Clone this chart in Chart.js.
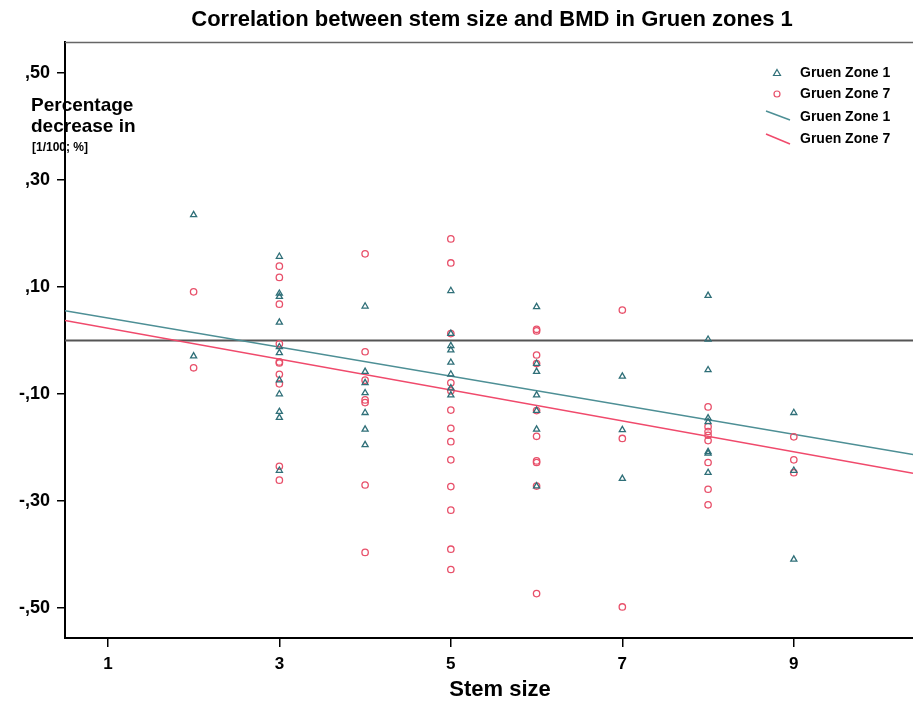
<!DOCTYPE html>
<html>
<head>
<meta charset="utf-8">
<script src="https://cdn.jsdelivr.net/npm/chart.js@4.4.1/dist/chart.umd.min.js"></script>
<style>
  html,body{margin:0;padding:0;background:#fff;}
  #wrap{width:913px;height:704px;}
</style>
</head>
<body>
<div id="wrap"><canvas id="c" width="913" height="704"></canvas></div>
<script>
// stem size / percentage decrease, Gruen zone 1 (triangles)
const g1Stem=[2,2, 3,3,3,3,3,3,3,3,3,3,3, 4,4,4,4,4,4,4, 5,5,5,5,5,5,5,5, 6,6,6,6,6,6,6, 7,7,7, 8,8,8,8,8,8,8,8, 9,9,9];
const g1Pct =[0.235,-0.029, 0.157,0.088,0.082,0.034,-0.012,-0.023,-0.074,-0.100,-0.133,-0.144,-0.243,
  0.064,-0.058,-0.079,-0.098,-0.135,-0.166,-0.195,
  0.093,0.013,-0.010,-0.018,-0.041,-0.063,-0.089,-0.102,
  0.063,-0.043,-0.058,-0.102,-0.131,-0.166,-0.272,
  -0.067,-0.167,-0.258,
  0.084,0.002,-0.055,-0.145,-0.152,-0.208,-0.211,-0.247,
  -0.135,-0.243,-0.409];

// Gruen zone 7 (circles)
const g7Stem=[2,2, 3,3,3,3,3,3,3,3,3,3, 4,4,4,4,4,4,4, 5,5,5,5,5,5,5,5,5,5,5,5,5, 6,6,6,6,6,6,6,6,6,6, 7,7,7, 8,8,8,8,8,8,8,8, 9,9,9];
const g7Pct =[0.091,-0.051,
  0.139,0.118,0.068,-0.006,-0.040,-0.042,-0.063,-0.081,-0.235,-0.261,
  0.162,-0.021,-0.074,-0.111,-0.116,-0.270,-0.396,
  0.190,0.145,0.013,-0.079,-0.094,-0.130,-0.164,-0.189,-0.223,-0.273,-0.317,-0.390,-0.428,
  0.021,0.018,-0.027,-0.043,-0.131,-0.179,-0.225,-0.228,-0.272,-0.473,
  0.057,-0.183,-0.498,
  -0.124,-0.161,-0.170,-0.177,-0.187,-0.228,-0.278,-0.307,
  -0.180,-0.223,-0.247];

// fitted lines: [intercept, slope]
const fit1=[0.0695,-0.0272];
const fit7=[0.052,-0.0289];

const xTicks=[1,3,5,7,9];
const yTicks=[0.5,0.3,0.1,-0.1,-0.3,-0.5];
const xMin=0.5, xMax=10.39, yMin=-0.556, yMax=0.558;

const teal="#2f6f78", tealLine="#4d8f95", red="#e8506a", redLine="#f04a6c";
const FONT="'Liberation Sans', Arial, sans-serif";

const pts=(xs,ys)=>xs.map((x,i)=>({x:x,y:ys[i]}));
const fitPts=f=>[{x:xMin,y:f[0]+f[1]*xMin},{x:xMax,y:f[0]+f[1]*xMax}];

function fmt(v){
  let s=Math.abs(v).toFixed(2).replace(/^0\./,",");
  return (v<0?"-":"")+s;
}

const decor={
  id:"decor",
  afterDraw(ch){
    const c=ch.ctx, a=ch.chartArea;
    c.save();
    // top frame line
    c.strokeStyle="#666"; c.lineWidth=1.5;
    c.beginPath(); c.moveTo(a.left,a.top+0.5); c.lineTo(a.right,a.top+0.5); c.stroke();
    // title
    c.fillStyle="#000"; c.textAlign="center"; c.textBaseline="middle";
    c.font="bold 22px "+FONT;
    c.fillText("Correlation between stem size and BMD in Gruen zones 1",492,20);
    // y title
    c.textAlign="left";
    c.font="bold 19px "+FONT;
    c.fillText("Percentage",31,106);
    c.fillText("decrease in",31,127);
    c.font="bold 12px "+FONT;
    c.fillText("[1/100; %]",32,148);
    // x title
    c.textAlign="center";
    c.font="bold 22px "+FONT;
    c.fillText("Stem size",500,690);
    // legend
    c.font="bold 14px "+FONT;
    c.textAlign="left";
    const lx=777, tx=800;
    c.lineWidth=1.2;
    c.strokeStyle=teal;
    c.beginPath(); c.moveTo(lx,69.5); c.lineTo(lx+3.5,75.5); c.lineTo(lx-3.5,75.5); c.closePath(); c.stroke();
    c.strokeStyle=red;
    c.beginPath(); c.arc(lx,94,3,0,Math.PI*2); c.stroke();
    c.lineWidth=1.5;
    c.strokeStyle=tealLine;
    c.beginPath(); c.moveTo(766,111); c.lineTo(790,120); c.stroke();
    c.strokeStyle=redLine;
    c.beginPath(); c.moveTo(766,134); c.lineTo(790,144); c.stroke();
    c.fillStyle="#000";
    c.fillText("Gruen Zone 1",tx,73);
    c.fillText("Gruen Zone 7",tx,94);
    c.fillText("Gruen Zone 1",tx,117);
    c.fillText("Gruen Zone 7",tx,139);
    c.restore();
  }
};

new Chart(document.getElementById("c"),{
  type:"scatter",
  data:{datasets:[
    {label:"zero",type:"line",data:[{x:xMin,y:0},{x:xMax,y:0}],borderColor:"#555",borderWidth:2,pointRadius:0,order:3},
    {label:"Gruen Zone 1 fit",type:"line",data:fitPts(fit1),borderColor:tealLine,borderWidth:1.5,pointRadius:0,order:2},
    {label:"Gruen Zone 7 fit",type:"line",data:fitPts(fit7),borderColor:redLine,borderWidth:1.5,pointRadius:0,order:2},
    {label:"Gruen Zone 1",data:pts(g1Stem,g1Pct),pointStyle:"triangle",pointRadius:3.5,borderColor:teal,backgroundColor:"rgba(0,0,0,0)",borderWidth:1.3,order:1},
    {label:"Gruen Zone 7",data:pts(g7Stem,g7Pct),pointStyle:"circle",pointRadius:3.2,borderColor:red,backgroundColor:"rgba(0,0,0,0)",borderWidth:1.3,order:1}
  ]},
  options:{
    responsive:false,animation:false,
    layout:{autoPadding:false,padding:{top:42,right:0,left:0,bottom:0}},
    plugins:{legend:{display:false},tooltip:{enabled:false},title:{display:false}},
    scales:{
      x:{type:"linear",min:xMin,max:xMax,
        afterBuildTicks:s=>{s.ticks=xTicks.map(v=>({value:v}));},
        afterFit:s=>{s.height=66;s.paddingLeft=0;s.paddingRight=0;},
        grid:{drawOnChartArea:false,drawTicks:true,tickLength:9,color:"#000",lineWidth:1.5},
        border:{display:true,color:"#000",width:2},
        ticks:{color:"#000",font:{family:FONT,size:17,weight:"bold"},padding:7}
      },
      y:{type:"linear",min:yMin,max:yMax,
        afterBuildTicks:s=>{s.ticks=yTicks.map(v=>({value:v}));},
        afterFit:s=>{s.width=65;s.paddingTop=0;s.paddingBottom=0;},
        grid:{drawOnChartArea:false,drawTicks:true,tickLength:8,color:"#000",lineWidth:1.5},
        border:{display:true,color:"#000",width:2},
        ticks:{color:"#000",font:{family:FONT,size:18,weight:"bold"},padding:7,callback:v=>fmt(v)}
      }
    }
  },
  plugins:[decor]
});
</script>
</body>
</html>
